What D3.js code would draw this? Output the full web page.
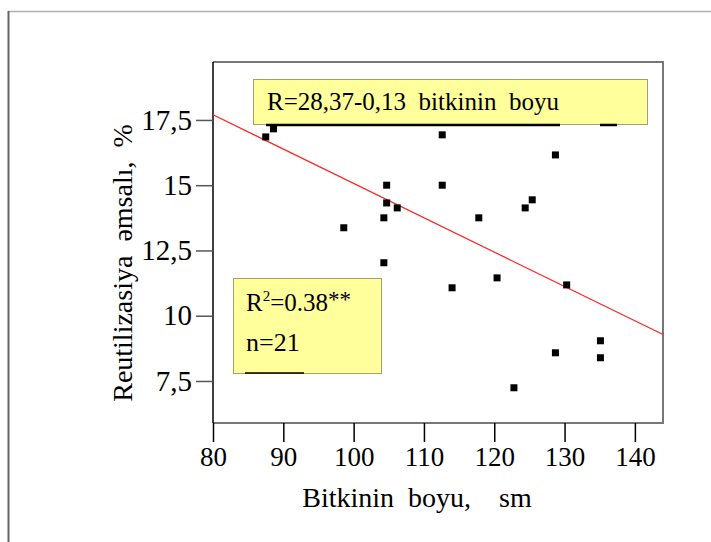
<!DOCTYPE html>
<html>
<head>
<meta charset="utf-8">
<script src="https://cdn.jsdelivr.net/npm/d3@7"></script>
<style>
  body { margin: 0; background: #fff; }
  text { font-family: "Liberation Serif", "Times New Roman", serif; fill: #000; }
</style>
</head>
<body>
<div class="chart"></div>
<script>
// plant height vs reutilization coefficient
const heightVals = [87.5, 88.6, 112.6, 128.7, 104.7, 112.6, 104.7, 106.2, 124.4, 125.4, 104.3,
  117.8, 98.6, 104.3, 120.4, 114.0, 130.3, 135.1, 128.7, 135.1, 122.8];
const reutilVals = [16.85, 17.16, 16.93, 16.16, 15.0, 15.0, 14.32, 14.13, 14.13, 14.44, 13.75,
  13.75, 13.37, 12.03, 11.45, 11.07, 11.18, 9.04, 8.58, 8.39, 7.24];

// fitted line, ends as drawn
const fitX = [80, 144];
const fitY = [17.7, 9.28];

const xTicks = [80, 90, 100, 110, 120, 130, 140];
const yTicks = [7.5, 10, 12.5, 15, 17.5];

const width = 711, height = 542;
const m = {left: 213, right: 663, top: 62, bottom: 423};

var svg = d3.select(".chart").append("svg")
  .attr("width", width)
  .attr("height", height);

// page frame
svg.append("line").attr("x1", 8).attr("x2", 711).attr("y1", 11.5).attr("y2", 11.5)
  .attr("stroke", "#b0b0b0").attr("stroke-width", 1.5);
svg.append("line").attr("x1", 8.5).attr("x2", 8.5).attr("y1", 11).attr("y2", 542)
  .attr("stroke", "#666").attr("stroke-width", 2);

var x = d3.scaleLinear().domain([80, 144]).range([m.left, m.right]);
var y = d3.scaleLinear().domain([5.89, 19.72]).range([m.bottom, m.top]);

// plot box
svg.append("path")
  .attr("d", `M${m.left},${m.top}H${m.right}V${m.bottom}H${m.left}`)
  .attr("fill", "none").attr("stroke", "#777").attr("stroke-width", 2);
svg.append("line").attr("x1", m.left).attr("x2", m.left).attr("y1", m.top).attr("y2", m.bottom)
  .attr("stroke", "#000").attr("stroke-width", 1.5);

// x axis
var xAxis = svg.append("g")
  .attr("transform", `translate(0,${m.bottom})`)
  .call(d3.axisBottom(x).tickValues(xTicks).tickSize(19).tickPadding(5).tickFormat(d3.format("d")));
xAxis.select(".domain").remove();
xAxis.selectAll(".tick line").attr("stroke", "#000").attr("stroke-width", 1.5);
xAxis.selectAll(".tick text").style("font-size", "27px").style("font-family", "Liberation Serif");

// y axis
var yAxis = svg.append("g")
  .attr("transform", `translate(${m.left},0)`)
  .call(d3.axisLeft(y).tickValues(yTicks).tickSize(17).tickPadding(4)
    .tickFormat(d => String(d).replace(".", ",")));
yAxis.select(".domain").remove();
yAxis.selectAll(".tick line").attr("stroke", "#555").attr("stroke-width", 1.5);
yAxis.selectAll(".tick text").style("font-size", "29px").style("font-family", "Liberation Serif");

// axis titles
svg.append("text")
  .attr("x", 417).attr("y", 507)
  .attr("text-anchor", "middle")
  .attr("xml:space", "preserve")
  .style("white-space", "pre")
  .style("font-size", "28px")
  .text("Bitkinin  boyu,    sm");

svg.append("text")
  .attr("transform", "translate(132,263) rotate(-90)")
  .attr("text-anchor", "middle")
  .attr("xml:space", "preserve")
  .style("white-space", "pre")
  .style("font-size", "28px")
  .text("Reutilizasiya  əmsalı,  %");

// regression line
svg.append("path")
  .datum(d3.zip(fitX, fitY))
  .attr("d", d3.line().x(d => x(d[0])).y(d => y(d[1])))
  .attr("fill", "none").attr("stroke", "#ff2020").attr("stroke-width", 1.2);

// points
svg.append("g").selectAll("rect")
  .data(d3.zip(heightVals, reutilVals))
  .enter().append("rect")
  .attr("x", d => x(d[0]) - 3.5)
  .attr("y", d => y(d[1]) - 3.5)
  .attr("width", 7).attr("height", 7)
  .attr("fill", "#000");

// equation box
svg.append("rect")
  .attr("x", 253.5).attr("y", 79.5).attr("width", 394).attr("height", 45)
  .attr("fill", "#ffff9c").attr("stroke", "#a0a070").attr("stroke-width", 1);
svg.append("text")
  .attr("x", 267).attr("y", 110)
  .attr("xml:space", "preserve").style("white-space", "pre")
  .style("font-size", "25px")
  .text("R=28,37-0,13  bitkinin  boyu");
svg.append("line").attr("x1", 266).attr("x2", 560).attr("y1", 125).attr("y2", 125)
  .attr("stroke", "#000").attr("stroke-width", 2.5);
svg.append("line").attr("x1", 600).attr("x2", 617).attr("y1", 125).attr("y2", 125)
  .attr("stroke", "#000").attr("stroke-width", 2.5);

// stats box
svg.append("rect")
  .attr("x", 233.5).attr("y", 278.5).attr("width", 148).attr("height", 95)
  .attr("fill", "#ffff9c").attr("stroke", "#a0a070").attr("stroke-width", 1);
var r2 = svg.append("text")
  .attr("x", 246).attr("y", 311)
  .style("font-size", "25px");
r2.append("tspan").text("R");
r2.append("tspan").attr("dy", -10).style("font-size", "15px").text("2");
r2.append("tspan").attr("dy", 10).text("=0.38");
r2.append("tspan").attr("dy", -4).style("font-size", "23px").text("**");
svg.append("text")
  .attr("x", 246).attr("y", 351)
  .style("font-size", "26px")
  .text("n=21");
svg.append("line").attr("x1", 245).attr("x2", 304).attr("y1", 373).attr("y2", 373)
  .attr("stroke", "#000").attr("stroke-width", 1.5);
</script>
</body>
</html>
